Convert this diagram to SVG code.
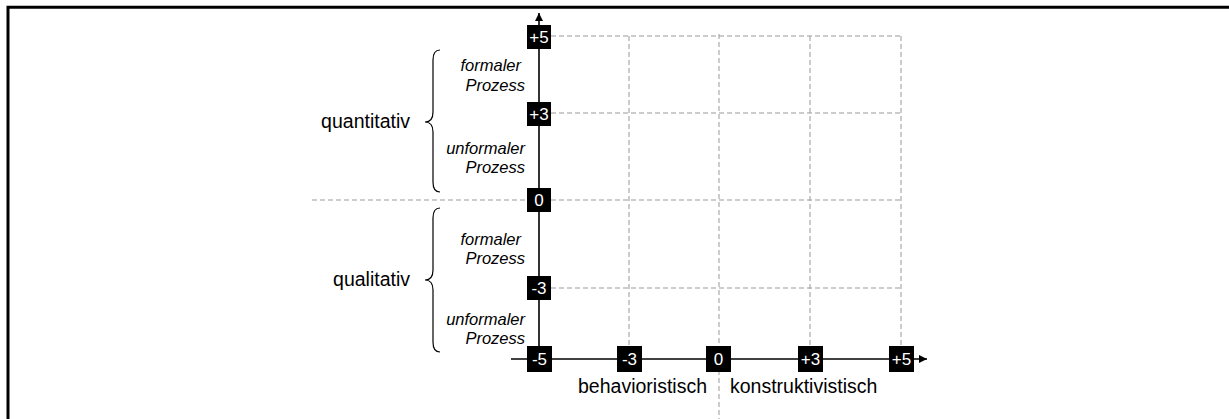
<svg xmlns="http://www.w3.org/2000/svg" width="1229" height="419" viewBox="0 0 1229 419">
<defs>
<style>
.frame{fill:none;stroke:#000;stroke-width:3}
.grid{fill:none;stroke:#999;stroke-width:1;stroke-dasharray:5 3}
.axis{fill:none;stroke:#000;stroke-width:1.6}
.box{fill:#000}
.bt{font-family:"Liberation Sans",Arial,sans-serif;font-size:17px;fill:#fff;text-anchor:middle}
.it{font-family:"Liberation Sans",Arial,sans-serif;font-size:16.5px;font-style:italic;fill:#000;text-anchor:end}
.lab{font-family:"Liberation Sans",Arial,sans-serif;font-size:19.5px;fill:#000}
.brace{fill:none;stroke:#000;stroke-width:1.2}
</style>
<marker id="arr" viewBox="0 0 10 10" refX="10" refY="5" markerWidth="8" markerHeight="8" markerUnits="userSpaceOnUse" orient="auto">
<path d="M0,0 L10,5 L0,10 z" fill="#000"/>
</marker>
</defs>
<rect width="1229" height="419" fill="#fff"/>
<path class="frame" d="M8,419 V7.2 H1229"/>
<g id="grid">
<path class="grid" d="M551,36 H901 M551,113 H901 M312,200 H527 M551,200 H901 M551,288 H901"/>
<path class="grid" d="M629,36 V347 M719,34 V419 M810,36 V347 M901,36 V347"/>
</g>
<g id="connectors">
<path class="axis" d="M539,359 V13" marker-end="url(#arr)"/>
<path class="axis" d="M511,359 H927" marker-end="url(#arr)"/>
</g>
<g id="y-ticks">
<g id="y5"><rect class="box" x="527" y="25" width="24" height="24"/><text class="bt" x="539" y="43">+5</text></g>
<g id="y3"><rect class="box" x="527" y="102" width="24" height="24"/><text class="bt" x="539" y="120">+3</text></g>
<g id="y0"><rect class="box" x="527" y="188" width="24" height="24"/><text class="bt" x="539" y="206">0</text></g>
<g id="ym3"><rect class="box" x="527" y="276" width="24" height="24"/><text class="bt" x="539" y="294">-3</text></g>
</g>
<g id="x-ticks">
<g id="xm5"><rect class="box" x="527" y="346" width="25" height="26"/><text class="bt" x="539.5" y="365">-5</text></g>
<g id="xm3"><rect class="box" x="617" y="346" width="25" height="26"/><text class="bt" x="629.5" y="365">-3</text></g>
<g id="x0"><rect class="box" x="706" y="346" width="25" height="26"/><text class="bt" x="718.5" y="365">0</text></g>
<g id="x3"><rect class="box" x="798" y="346" width="25" height="26"/><text class="bt" x="810.5" y="365">+3</text></g>
<g id="x5"><rect class="box" x="889" y="346" width="25" height="26"/><text class="bt" x="901.5" y="365">+5</text></g>
</g>
<g id="sublabels">
<text class="it" x="521" y="71">formaler</text>
<text class="it" x="525" y="91">Prozess</text>
<text class="it" x="525" y="154">unformaler</text>
<text class="it" x="525" y="173">Prozess</text>
<text class="it" x="521" y="245">formaler</text>
<text class="it" x="525" y="264">Prozess</text>
<text class="it" x="525" y="325">unformaler</text>
<text class="it" x="525" y="344">Prozess</text>
</g>
<g id="quantitativ">
<path class="brace" d="M440,50 Q433,50 433,60 V112 Q433,122 425,122 Q433,122 433,132 V182 Q433,192 440,192"/>
<text class="lab" x="410" y="128" text-anchor="end">quantitativ</text>
</g>
<g id="qualitativ">
<path class="brace" d="M440,208 Q433,208 433,218 V270 Q433,280 425,280 Q433,280 433,290 V342 Q433,352 440,352"/>
<text class="lab" x="410" y="286" text-anchor="end">qualitativ</text>
</g>
<g id="xlabels">
<text class="lab" x="578" y="393">behavioristisch</text>
<text class="lab" x="730" y="393">konstruktivistisch</text>
</g>
</svg>
